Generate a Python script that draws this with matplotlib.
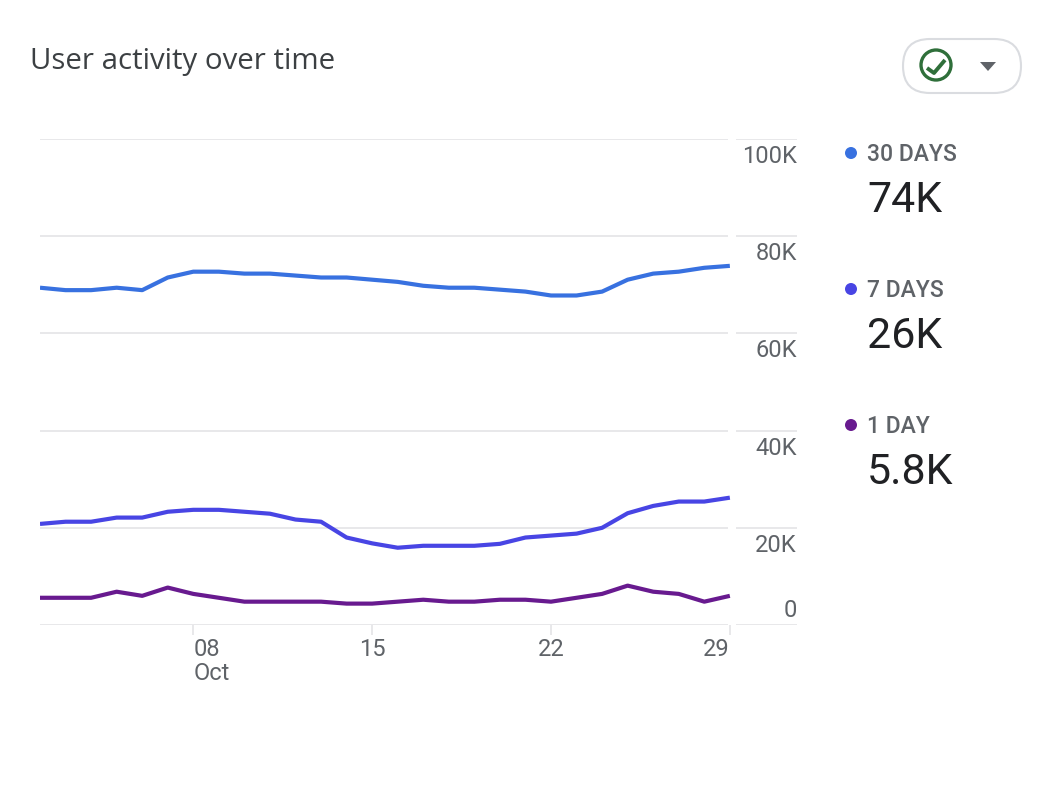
import matplotlib
matplotlib.use("Agg")
import matplotlib.pyplot as plt
from matplotlib.patches import Circle, FancyBboxPatch, Polygon
from matplotlib.transforms import ScaledTranslation

plt.rcParams['font.family'] = ['Roboto', 'DejaVu Sans']

days = list(range(2, 30))

# values in thousands
users_30d = [69.4, 68.9, 68.9, 69.4, 68.9, 71.5, 72.7, 72.7, 72.3, 72.3, 71.9, 71.5, 71.5, 71.05,
             70.6, 69.8, 69.4, 69.4, 69.0, 68.6, 67.8, 67.8, 68.6, 71.05, 72.3, 72.7, 73.5, 73.9]
users_7d = [20.8, 21.25, 21.25, 22.1, 22.1, 23.3, 23.7, 23.7, 23.3, 22.9, 21.7, 21.25, 18.0, 16.8,
            15.9, 16.3, 16.3, 16.3, 16.7, 18.0, 18.4, 18.8, 20.0, 23.0, 24.5, 25.4, 25.4, 26.2]
users_1d = [5.6, 5.6, 5.6, 6.85, 6.0, 7.7, 6.4, 5.6, 4.8, 4.8, 4.8, 4.8, 4.4, 4.4,
            4.8, 5.2, 4.8, 4.8, 5.2, 5.2, 4.8, 5.6, 6.4, 8.1, 6.85, 6.4, 4.8, 6.0]

series_colors = ['#3871e0', '#4845e4', '#681a8f']
legend_names = ['30 DAYS', '7 DAYS', '1 DAY']
legend_values = ['74K', '26K', '5.8K']

y_ticks = [0, 20, 40, 60, 80, 100]
y_labels = ['0', '20K', '40K', '60K', '80K', '100K']
x_ticks = [8, 15, 22, 29]
x_labels = ['08\nOct', '15', '22', '29']

GRID = '#e8e8ea'
GREY = '#5f6368'
W, H = 1062, 788

fig = plt.figure(figsize=(W / 100, H / 100), dpi=100)

# plot area in pixels: x 40..797, y 139..625
ax = fig.add_axes([40 / W, 1 - 625 / H, 757 / W, 486 / H])
px_per_day = 25.55
ax.set_xlim(2, 2 + 757 / px_per_day)
ax.set_ylim(0, 100)
for s in ax.spines.values():
    s.set_visible(False)

# gridlines stop at the last day, then a short piece under the labels
ax.hlines(y_ticks, 2, 28.93, color=GRID, lw=1.44, zorder=1)
ax.hlines(y_ticks, 2 + 696 / px_per_day, 2 + 757 / px_per_day, color=GRID, lw=1.44, zorder=1)

for vals, c in zip([users_30d, users_7d, users_1d], series_colors):
    ax.plot(days, vals, color=c, lw=3.0, solid_joinstyle='round', solid_capstyle='butt', zorder=3)

ax.set_xticks(x_ticks)
ax.set_xticklabels(x_labels, fontsize=17, color=GREY, linespacing=1.05)
ax.tick_params(axis='x', length=7.2, width=1.44, color=GRID, pad=2.5)
for lab, ha in zip(ax.get_xticklabels(), ['left', 'center', 'center', 'right']):
    lab.set_ha(ha)

ax.yaxis.tick_right()
ax.set_yticks(y_ticks)
ax.set_yticklabels(y_labels, fontsize=17, color=GREY)
ax.tick_params(axis='y', length=0, pad=0)
# labels sit below their gridline, except 0 which sits above the axis
for lab, val in zip(ax.get_yticklabels(), y_ticks):
    dy = 17 if val == 0 else -15
    lab.set_ha('right')
    lab.set_transform(lab.get_transform() + ScaledTranslation(0, dy / 100, fig.dpi_scale_trans))

# overlay in image pixels for title, button and legend
ov = fig.add_axes([0, 0, 1, 1], facecolor='none')
ov.set_xlim(0, W)
ov.set_ylim(H, 0)
ov.axis('off')

ov.text(30, 61, 'User activity over time', fontsize=21.2, color='#3c4043', va='center', ha='left',
        family=['Open Sans', 'DejaVu Sans'])

ov.add_patch(FancyBboxPatch((903, 39), 118, 54, boxstyle='round,pad=0,rounding_size=27',
                            fc='white', ec='#dadce0', lw=1.5))
ov.add_patch(Circle((936, 65), 15, fc='none', ec='#2f6f3a', lw=2.4))
ov.plot([927, 934, 945], [68, 73, 60], color='#2f6f3a', lw=2.8, solid_capstyle='butt')
ov.add_patch(Polygon([(980, 62), (996, 62), (988, 71)], fc=GREY, ec='none'))

for i, (name, value, c) in enumerate(zip(legend_names, legend_values, series_colors)):
    y0 = 153 + i * 136
    ov.add_patch(Circle((851, y0), 6, fc=c, ec='none'))
    ov.text(867, y0 + 1, name, fontsize=16.5, weight='medium', color=GREY, va='center', ha='left')
    ov.text(867, y0 + 47, value, fontsize=31, color='#202124', va='center', ha='left')

fig.savefig('out.png', dpi=100)
